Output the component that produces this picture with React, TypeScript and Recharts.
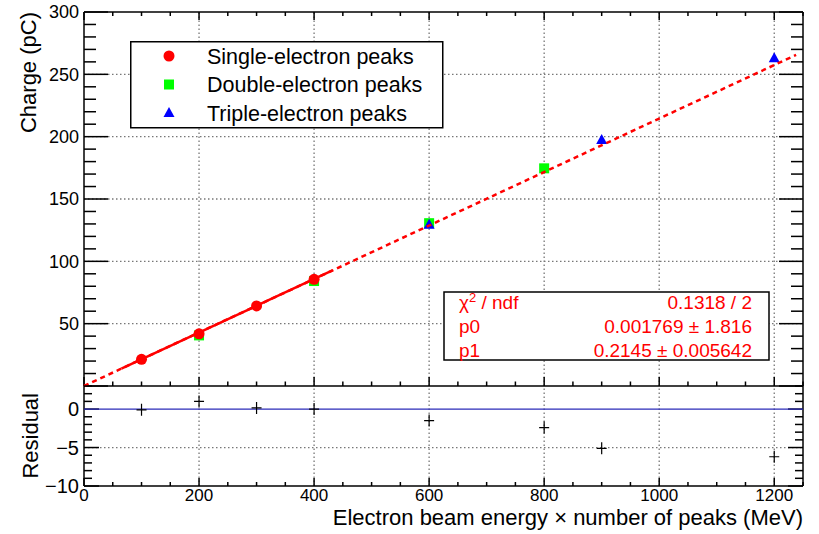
import { ComposedChart, Scatter, XAxis, YAxis, ReferenceLine, Legend } from 'recharts';

const FONT = '"Liberation Sans", Arial, Helvetica, sans-serif';

// measured peaks: x = beam energy * number of peaks (MeV), y = charge (pC)
const singleX = [100, 200, 300, 400];
const singleY = [21.4, 41.9, 64.2, 85.6];
const doubleX = [200, 400, 600, 800];
const doubleY = [40.6, 84.2, 130.6, 174.6];
const tripleX = [600, 900, 1200];
const tripleY = [129.3, 197.4, 263.0];

// fit line end points: whole drawn range (dashed) and fit range (solid)
const fitAllX = [0, 1238];
const fitAllY = [0, 265.6];
const fitRangeX = [65, 432];
const fitRangeY = [13.9, 92.7];

// residuals
const residX = [100, 200, 300, 400, 600, 800, 900, 1200];
const residY = [-0.1, 1.0, 0.15, 0.0, -1.5, -2.4, -5.1, -6.2];
const zeroX = [0, 1250];
const zeroY = [0, 0];

const seriesNames = ['Single-electron peaks', 'Double-electron peaks', 'Triple-electron peaks'];
const statsLabels = ['p0', 'p1'];
const statsValues = ['0.1318 / 2', '0.001769 \u00b1 1.816', '0.2145 \u00b1 0.005642'];

const xTicks = [0, 50, 100, 150, 200, 250, 300, 350, 400, 450, 500, 550, 600, 650, 700, 750, 800, 850, 900, 950, 1000, 1050, 1100, 1150, 1200, 1250];
const xLabels = [0, 200, 400, 600, 800, 1000, 1200];
const yTicksTop = [0, 10, 20, 30, 40, 50, 60, 70, 80, 90, 100, 110, 120, 130, 140, 150, 160, 170, 180, 190, 200, 210, 220, 230, 240, 250, 260, 270, 280, 290, 300];
const yLabelsTop = [50, 100, 150, 200, 250, 300];
const yTicksRes = [-10, -9, -8, -7, -6, -5, -4, -3, -2, -1, 0, 1, 2, 3];
const yLabelsRes = [-10, -5, 0];
const gridX = [200, 400, 600, 800, 1000, 1200];
const gridYTop = [50, 100, 150, 200, 250];
const gridYRes = [-5];

const RED = '#ff0000';
const GREEN = '#00ff00';
const BLUE = '#0000ff';

// data units per pixel of the frames (719 x 374 top, 719 x 100 residual)
const UX = 1250 / 719;
const UY_TOP = 300 / 374;
const UY_RES = 13 / 100;

const pts = (xs: number[], ys: number[]) => xs.map((x, i) => ({ x, y: ys[i] }));

const fmt = (v: number) => (v < 0 ? '\u2212' + Math.abs(v) : String(v));

function yLabel(labels: number[], fs: number) {
    return (p: any) => {
        const v = Number(p.payload.value);
        if (!labels.includes(v)) return <g />;
        return (
            <text x={p.x - 5} y={p.y + fs * 0.36} textAnchor="end" fontSize={fs} fontFamily={FONT} fill="#000">
                {fmt(v)}
            </text>
        );
    };
}

function xLabel(labels: number[], fs: number) {
    return (p: any) => {
        const v = Number(p.payload.value);
        if (!labels.includes(v)) return <g />;
        return (
            <text x={p.x} y={p.y + 15} textAnchor="middle" fontSize={fs} fontFamily={FONT} fill="#000">
                {v}
            </text>
        );
    };
}

const circle = (p: any) => <circle cx={p.cx} cy={p.cy} r={5.5} fill={RED} />;
const square = (p: any) => <rect x={p.cx - 5} y={p.cy - 5} width={10} height={10} fill={GREEN} />;
const triangle = (p: any) => (
    <polygon points={`${p.cx},${p.cy - 6} ${p.cx + 5.5},${p.cy + 4} ${p.cx - 5.5},${p.cy + 4}`} fill={BLUE} />
);
const cross = (p: any) => (
    <path d={`M${p.cx - 5},${p.cy}H${p.cx + 5}M${p.cx},${p.cy - 6}V${p.cy + 6}`} stroke="#000" strokeWidth={1.2} fill="none" />
);
const none = () => <g />;

const markers: Record<string, (p: any) => any> = {
    [seriesNames[0]]: circle,
    [seriesNames[1]]: square,
    [seriesNames[2]]: triangle,
};

const renderLegend = (props: any) => {
    const names = (props.payload || [])
        .map((e: any) => e.value)
        .filter((n: string) => seriesNames.includes(n))
        .sort((a: string, b: string) => seriesNames.indexOf(a) - seriesNames.indexOf(b));
    const list = names.length ? names : seriesNames;
    return (
        <svg width={314} height={88} style={{ display: 'block' }}>
            <rect x={0.75} y={0.75} width={312} height={86} fill="#fff" stroke="#000" strokeWidth={1.5} />
            {list.map((n: string, i: number) => {
                const cy = 15 + i * 28.5;
                return (
                    <g key={n}>
                        {markers[n]({ cx: 39, cy })}
                        <text x={77} y={cy + 7.7} fontSize={21.5} fontFamily={FONT} fill="#000">
                            {n}
                        </text>
                    </g>
                );
            })}
        </svg>
    );
};

const axisLine = { stroke: '#000', strokeWidth: 1.5 };
const frame = { stroke: '#000', strokeWidth: 1.5, ifOverflow: 'visible' as const };
const tickStyle = { stroke: '#000', strokeWidth: 1.5, ifOverflow: 'visible' as const };
const gridStyle = { stroke: '#777', strokeWidth: 1.3, strokeDasharray: '1.5 2.5', ifOverflow: 'visible' as const };

// inward tick marks on the left/right edges (length in pixels)
function yTickLines(key: string, ticks: number[], step: number, major: number, minor: number) {
    return ticks.flatMap((v) => {
        const len = (Math.abs(v % step) < 1e-9 ? major : minor) * UX;
        return [
            <ReferenceLine key={key + 'l' + v} segment={[{ x: 0, y: v }, { x: len, y: v }]} {...tickStyle} />,
            <ReferenceLine key={key + 'r' + v} segment={[{ x: 1250 - len, y: v }, { x: 1250, y: v }]} {...tickStyle} />,
        ];
    });
}

// inward tick marks on the bottom (and optionally top) edges
function xTickLines(key: string, y0: number, y1: number, uy: number, bMajor: number, bMinor: number, tMajor: number, tMinor: number) {
    return xTicks.flatMap((v) => {
        const big = v % 200 === 0;
        const b = (big ? bMajor : bMinor) * uy;
        const t = (big ? tMajor : tMinor) * uy;
        const out = [<ReferenceLine key={key + 'b' + v} segment={[{ x: v, y: y0 }, { x: v, y: y0 + b }]} {...tickStyle} />];
        if (t > 0) {
            out.push(<ReferenceLine key={key + 't' + v} segment={[{ x: v, y: y1 - t }, { x: v, y: y1 }]} {...tickStyle} />);
        }
        return out;
    });
}

export default function App() {
    return (
        <div style={{ position: 'absolute', left: 0, top: 0, width: 819, height: 534, background: '#fff' }}>
            <div style={{ position: 'absolute', left: 0, top: 0 }}>
                <ComposedChart width={819} height={392} margin={{ top: 12, right: 16, bottom: 0, left: 0 }}>
                    <XAxis dataKey="x" type="number" domain={[0, 1250]} ticks={xTicks} interval={0} height={6}
                        axisLine={axisLine} tickLine={false} tickSize={0} tickMargin={0} tick={xLabel([], 17)} />
                    <YAxis dataKey="y" type="number" domain={[0, 300]} ticks={yTicksTop} interval={0} width={84}
                        axisLine={axisLine} tickLine={false} tickSize={0} tickMargin={0} tick={yLabel(yLabelsTop, 18)} />
                    {gridX.map((v) => (
                        <ReferenceLine key={'gx' + v} x={v} {...gridStyle} />
                    ))}
                    {gridYTop.map((v) => (
                        <ReferenceLine key={'gy' + v} y={v} {...gridStyle} />
                    ))}
                    <ReferenceLine y={300} {...frame} />
                    <ReferenceLine x={1250} {...frame} />
                    <Scatter name={seriesNames[1]} data={pts(doubleX, doubleY)} fill={GREEN}
                        shape={square} isAnimationActive={false} />
                    <Scatter name={seriesNames[2]} data={pts(tripleX, tripleY)} fill={BLUE}
                        shape={triangle} isAnimationActive={false} />
                    <Scatter name={seriesNames[0]} data={pts(singleX, singleY)} fill={RED}
                        shape={circle} isAnimationActive={false} />
                    <Scatter name="fit-all" data={pts(fitAllX, fitAllY)} legendType="none"
                        line={{ stroke: RED, strokeWidth: 2.5, strokeDasharray: '5 4' }} shape={none} isAnimationActive={false} />
                    <Scatter name="fit-range" data={pts(fitRangeX, fitRangeY)} legendType="none"
                        line={{ stroke: RED, strokeWidth: 2.5 }} shape={none} isAnimationActive={false} />
                    {yTickLines('t', yTicksTop, 50, 24, 12)}
                    {xTickLines('t', 0, 300, UY_TOP, 9, 4.5, 8, 4)}
                    <Legend layout="vertical" align="center" verticalAlign="middle" content={renderLegend}
                        wrapperStyle={{ left: 129.5, top: 40.5, width: 314, height: 88 }} />
                </ComposedChart>
            </div>
            <div style={{ position: 'absolute', left: 0, top: 380 }}>
                <ComposedChart width={819} height={154} margin={{ top: 6, right: 16, bottom: 0, left: 0 }}>
                    <XAxis dataKey="x" type="number" domain={[0, 1250]} ticks={xTicks} interval={0} height={48}
                        axisLine={axisLine} tickLine={false} tickSize={0} tickMargin={0} tick={xLabel(xLabels, 17)} />
                    <YAxis dataKey="y" type="number" domain={[-10, 3]} ticks={yTicksRes} interval={0} width={84}
                        axisLine={axisLine} tickLine={false} tickSize={0} tickMargin={0} tick={yLabel(yLabelsRes, 20)} />
                    {gridX.map((v) => (
                        <ReferenceLine key={'rx' + v} x={v} {...gridStyle} />
                    ))}
                    {gridYRes.map((v) => (
                        <ReferenceLine key={'ry' + v} y={v} {...gridStyle} />
                    ))}
                    <ReferenceLine x={1250} {...frame} />
                    <Scatter name="zero" data={pts(zeroX, zeroY)} legendType="none"
                        line={{ stroke: '#2b2bb8', strokeWidth: 1.2 }} shape={none} isAnimationActive={false} />
                    <Scatter name="residual" data={pts(residX, residY)} shape={cross} isAnimationActive={false} />
                    {yTickLines('r', yTicksRes, 5, 15, 8)}
                    {xTickLines('r', -10, 3, UY_RES, 8, 4, 0, 0)}
                </ComposedChart>
            </div>
            <svg width={819} height={534} style={{ position: 'absolute', left: 0, top: 0, pointerEvents: 'none' }}
                fontFamily={FONT}>
                <text transform="translate(36,12) rotate(-90)" textAnchor="end" fontSize={22} fill="#000">
                    Charge (pC)
                </text>
                <text transform="translate(38,393) rotate(-90)" textAnchor="end" fontSize={22} fill="#000">
                    Residual
                </text>
                <text x={803} y={525} textAnchor="end" fontSize={22} fill="#000">
                    Electron beam energy {'\u00d7'} number of peaks (MeV)
                </text>
                <rect x={444} y={292} width={325} height={68} fill="#fff" stroke="#000" strokeWidth={1.5} />
                <text x={459} y={309} fontSize={19} fill={RED}>
                    <tspan>{'\u03c7'}</tspan>
                    <tspan dy={-7} fontSize={13}>2</tspan>
                    <tspan dy={7}> / ndf</tspan>
                </text>
                {statsLabels.map((l, i) => (
                    <text key={l} x={459} y={333 + i * 24} fontSize={19} fill={RED}>
                        {l}
                    </text>
                ))}
                {statsValues.map((v, i) => (
                    <text key={v} x={752} y={309 + i * 24} fontSize={19} fill={RED} textAnchor="end">
                        {v}
                    </text>
                ))}
            </svg>
        </div>
    );
}
